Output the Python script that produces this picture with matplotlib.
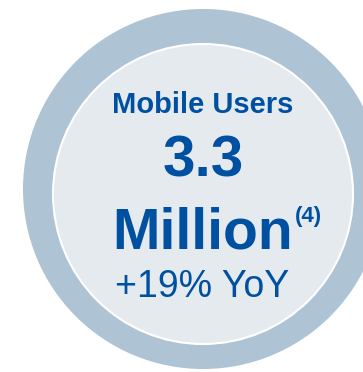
import matplotlib
matplotlib.use("Agg")
from matplotlib import pyplot as plt
from matplotlib.patches import Circle

# headline figures
title = "Mobile Users"
users_millions = 3.3
unit = "Million"
footnote = "(4)"
yoy_growth = 19

ring_color = "#aec3d4"
inner_color = "#e5eaef"
text_color = "#0050a2"

W, H = 363, 372
fig = plt.figure(figsize=(W / 100, H / 100), dpi=100)
ax = fig.add_axes([0, 0, 1, 1])
ax.set_xlim(0, W)
ax.set_ylim(H, 0)
ax.set_aspect("equal")
ax.axis("off")

# outer ring and inner disc with a thin white rim
ax.add_patch(Circle((203, 189), 180, facecolor=ring_color, edgecolor="none"))
ax.add_patch(Circle((203, 194), 150, facecolor=inner_color, edgecolor="white", linewidth=1.5))

font = ["Liberation Sans", "DejaVu Sans"]
ax.text(203, 112.7, title, ha="center", va="baseline", fontsize=21,
        fontweight="bold", color=text_color, family=font)
ax.text(203, 176.7, f"{users_millions:.1f}", ha="center", va="baseline", fontsize=42,
        fontweight="bold", color=text_color, family=font)
ax.text(203, 248.3, unit, ha="center", va="baseline", fontsize=41,
        fontweight="bold", color=text_color, family=font)
ax.text(295, 222, footnote, ha="left", va="baseline", fontsize=16,
        fontweight="bold", color=text_color, family=font)
ax.text(202, 296.7, f"+{yoy_growth}% YoY", ha="center", va="baseline", fontsize=27,
        color=text_color, family=font)

fig.savefig("out.png", dpi=100)
